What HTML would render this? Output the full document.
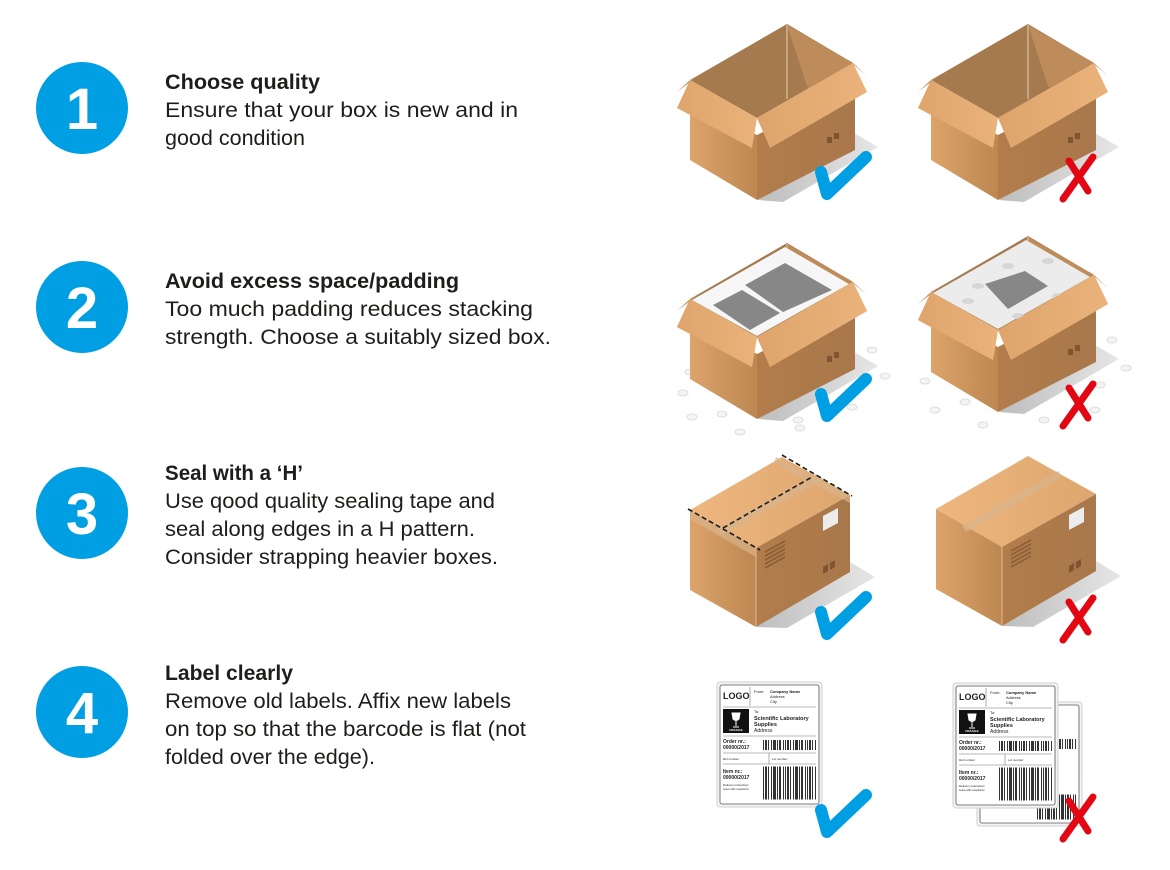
<!DOCTYPE html>
<html><head><meta charset="utf-8"><style>
html,body{margin:0;padding:0;background:#fff;width:1170px;height:870px;overflow:hidden}
svg{display:block}
.t{font-family:"Liberation Sans",sans-serif;font-size:21px;fill:#1d1d1b}
.b{font-weight:bold}
.n{font-family:"Liberation Sans",sans-serif;font-size:58px;fill:#fff;font-weight:bold}
.l{font-family:"Liberation Sans",sans-serif;fill:#222}
</style></head><body>
<svg width="1170" height="870" viewBox="0 0 1170 870" xmlns="http://www.w3.org/2000/svg">
<defs>
<linearGradient id="gl" x1="0" x2="1"><stop offset="0" stop-color="#dca46a"/><stop offset="1" stop-color="#bd8752"/></linearGradient>
<linearGradient id="gr" x1="0" x2="1"><stop offset="0" stop-color="#b27d4b"/><stop offset="1" stop-color="#a8774a"/></linearGradient>
<linearGradient id="gf" x1="0" x2="1"><stop offset="0" stop-color="#dea46b"/><stop offset="1" stop-color="#eab37b"/></linearGradient>
<linearGradient id="gt" x1="0" x2="1"><stop offset="0" stop-color="#efb77f"/><stop offset="1" stop-color="#dda66f"/></linearGradient>
<linearGradient id="gs" x1="0" x2="1"><stop offset="0" stop-color="#bdbdbd"/><stop offset="1" stop-color="#e6e6e6"/></linearGradient>
<g id="open">
 <polygon points="65,108 91,123 -4,178 -29,176" fill="url(#gs)"/>
 <polygon points="-97,56 0,0 66,39 -30,94" fill="#a57a4e"/>
 <polygon points="0,1 66,39 50,90 20,62" fill="#be8c5b"/>
 <line x1="0" y1="1" x2="0" y2="75" stroke="#e8d0b0" stroke-width="1"/>
 <polygon points="-97,76 -30,111 -30,176 -97,136" fill="url(#gl)"/>
 <polygon points="-30,111 68,61 68,126 -30,176" fill="url(#gr)"/>
 <polygon points="-97,56 -110,68 -88,51" fill="#c08b57"/>
 <polygon points="66,39 80,52 60,35" fill="#c08b57"/>
 <polygon points="-97,56 -110,84 -35,124 -30,94" fill="url(#gf)"/>
 <polygon points="-30,94 66,39 80,68 -17,124" fill="url(#gf)"/>
 <rect x="40" y="113" width="5" height="6" fill="#7d5530"/><rect x="47" y="109" width="5" height="6" fill="#7d5530"/>
</g>
<g id="closed">
 <polygon points="68,105 93,120 5,171 -26,170" fill="url(#gs)"/>
 <polygon points="-92,53 0,0 68,38 -26,91" fill="url(#gt)"/>
 <polygon points="-92,53 -26,91 -26,170 -92,133" fill="url(#gl)"/>
 <polygon points="-26,91 68,38 68,115 -26,170" fill="url(#gr)"/>
 <line x1="-26" y1="91" x2="-26" y2="170" stroke="#e7c9a0" stroke-width="0.8"/>
 <polygon points="41,59 56,51 56,66 41,74" fill="#ececec"/>
 <g stroke="#8a5f37" stroke-width="1.6"><line x1="-17" y1="95" x2="3" y2="84"/><line x1="-17" y1="99" x2="3" y2="88"/><line x1="-17" y1="103" x2="3" y2="92"/><line x1="-17" y1="107" x2="3" y2="96"/><line x1="-17" y1="111" x2="3" y2="100"/></g>
 <polygon points="41,110 46,107 46,114 41,117" fill="#7d5530"/>
 <polygon points="48,106 53,103 53,110 48,113" fill="#7d5530"/>
</g>
<g id="chk"><polyline points="6,22 12,44 51,7" fill="none" stroke="#009fe3" stroke-width="12" stroke-linecap="round" stroke-linejoin="round"/></g>
<g id="xx" stroke="#e30613" stroke-width="7" stroke-linecap="round"><line x1="35" y1="4" x2="5" y2="46"/><line x1="11" y1="8" x2="30" y2="38"/></g>
<g id="pn" fill="#f4f4f4" stroke="#d8d8d8" stroke-width="0.8"><ellipse cx="0" cy="0" rx="5" ry="3"/></g>
</defs>

<g fill="#009fe3"><circle cx="82" cy="108" r="46"/><circle cx="82" cy="307" r="46"/><circle cx="82" cy="513" r="46"/><circle cx="82" cy="712" r="46"/></g>
<text class="n" x="82" y="129" text-anchor="middle">1</text>
<text class="n" x="82" y="328" text-anchor="middle">2</text>
<text class="n" x="82" y="534" text-anchor="middle">3</text>
<text class="n" x="82" y="733" text-anchor="middle">4</text>

<text class="t b" x="165" y="89" textLength="155" lengthAdjust="spacingAndGlyphs">Choose quality</text>
<text class="t" x="165" y="117" textLength="353" lengthAdjust="spacingAndGlyphs">Ensure that your box is new and in</text>
<text class="t" x="165" y="145" textLength="140" lengthAdjust="spacingAndGlyphs">good condition</text>
<text class="t b" x="165" y="288" textLength="294" lengthAdjust="spacingAndGlyphs">Avoid excess space/padding</text>
<text class="t" x="165" y="316" textLength="368" lengthAdjust="spacingAndGlyphs">Too much padding reduces stacking</text>
<text class="t" x="165" y="344" textLength="386" lengthAdjust="spacingAndGlyphs">strength. Choose a suitably sized box.</text>
<text class="t b" x="165" y="480" textLength="138" lengthAdjust="spacingAndGlyphs">Seal with a ‘H’</text>
<text class="t" x="165" y="508" textLength="330" lengthAdjust="spacingAndGlyphs">Use qood quality sealing tape and</text>
<text class="t" x="165" y="536" textLength="310" lengthAdjust="spacingAndGlyphs">seal along edges in a H pattern.</text>
<text class="t" x="165" y="564" textLength="333" lengthAdjust="spacingAndGlyphs">Consider strapping heavier boxes.</text>
<text class="t b" x="165" y="680" textLength="128" lengthAdjust="spacingAndGlyphs">Label clearly</text>
<text class="t" x="165" y="708" textLength="346" lengthAdjust="spacingAndGlyphs">Remove old labels. Affix new labels</text>
<text class="t" x="165" y="736" textLength="361" lengthAdjust="spacingAndGlyphs">on top so that the barcode is flat (not</text>
<text class="t" x="165" y="764" textLength="210" lengthAdjust="spacingAndGlyphs">folded over the edge).</text>

<use href="#open" transform="translate(787,24)"/>
<use href="#open" transform="translate(1028,24)"/>
<use href="#chk" transform="translate(815,150)"/>
<use href="#xx" transform="translate(1058,153)"/>

<g>
<use href="#pn" x="683" y="393"/><use href="#pn" x="692" y="417"/><use href="#pn" x="722" y="414"/><use href="#pn" x="740" y="432"/><use href="#pn" x="690" y="372"/><use href="#pn" x="872" y="350"/><use href="#pn" x="885" y="376"/><use href="#pn" x="800" y="428"/><use href="#pn" x="798" y="420"/>
<use href="#pn" x="925" y="381"/><use href="#pn" x="935" y="410"/><use href="#pn" x="965" y="402"/><use href="#pn" x="983" y="425"/><use href="#pn" x="1112" y="340"/><use href="#pn" x="1126" y="368"/><use href="#pn" x="1044" y="420"/><use href="#pn" x="1100" y="385"/>
</g>
<use href="#open" transform="translate(787,243)"/>
<g transform="translate(787,243)">
 <polygon points="-95,57 -2,4 62,41 -30,93" fill="#f6f6f6"/>
 <polygon points="-2,20 45,47 -4,69 -42,42" fill="#878787"/>
 <polygon points="-45,47 -7,70 -37,87 -74,62" fill="#878787"/>
 <polygon points="-30,94 66,39 80,68 -17,124" fill="url(#gf)"/>
 <polygon points="-97,56 -110,84 -35,124 -30,94" fill="url(#gf)"/>
</g>
<use href="#open" transform="translate(1028,236)"/>
<g transform="translate(1028,236)">
 <polygon points="-95,57 -2,4 62,41 -30,93" fill="#ececec"/>
 <g fill="#d6d6d6"><ellipse cx="-50" cy="50" rx="6" ry="3"/><ellipse cx="-20" cy="30" rx="6" ry="3"/><ellipse cx="20" cy="25" rx="6" ry="3"/><ellipse cx="-60" cy="65" rx="6" ry="3"/><ellipse cx="30" cy="60" rx="6" ry="3"/><ellipse cx="-10" cy="80" rx="6" ry="3"/></g>
 <polygon points="-43,48 -3,35 20,50 -20,73" fill="#878787"/>
 <polygon points="-30,94 66,39 80,68 -17,124" fill="url(#gf)"/>
 <polygon points="-97,56 -110,84 -35,124 -30,94" fill="url(#gf)"/>
</g>
<use href="#pn" x="852" y="407"/><use href="#pn" x="1095" y="410"/>
<use href="#chk" transform="translate(815,372)"/>
<use href="#xx" transform="translate(1058,380)"/>

<use href="#closed" transform="translate(782,457)"/>
<g transform="translate(782,457)">
 <polygon points="-67,73 33,17 41,22 -59,78" fill="#d9b48a" opacity="0.8"/>
 <polygon points="-92,53 -26,91 -26,100 -92,62" fill="#d9b48a" opacity="0.7"/>
 <polygon points="-6,0 68,38 68,46 -8,6" fill="#d9b48a" opacity="0.7"/>
 <g stroke="#1d1d1b" stroke-width="1.6" stroke-dasharray="5,3" fill="none">
  <line x1="-94" y1="52" x2="-22" y2="93"/>
  <line x1="0" y1="-2" x2="70" y2="39"/>
  <line x1="-59" y1="71" x2="30" y2="20"/>
 </g>
</g>
<use href="#closed" transform="translate(1028,456)"/>
<polygon points="962,526 1058,471 1062,477 966,532" fill="#d9b48a" opacity="0.8"/>
<use href="#chk" transform="translate(815,590)"/>
<use href="#xx" transform="translate(1058,594)"/>

<g transform="translate(717,682)">
 <rect x="2" y="118" width="101" height="6" fill="#ddd" rx="3"/>
 <rect x="0" y="0" width="105" height="125" rx="3" fill="#f4f4f4" stroke="#d0d0d0"/>
 <rect x="3" y="3" width="99" height="119" rx="2" fill="#fff" stroke="#555" stroke-width="0.8"/>
 <text class="l" x="6" y="17" font-size="9" font-weight="bold">LOGO</text>
 <line x1="33" y1="5" x2="33" y2="24" stroke="#777" stroke-width="0.6"/>
 <text class="l" x="37" y="11" font-size="4">From:</text>
 <text class="l" x="53" y="11" font-size="4" font-weight="bold">Company Name</text>
 <text class="l" x="53" y="16" font-size="4" fill="#666">Address</text>
 <text class="l" x="53" y="21" font-size="4" fill="#666">City</text>
 <line x1="6" y1="25" x2="99" y2="25" stroke="#777" stroke-width="0.6"/>
 <rect x="6" y="27" width="26" height="24" fill="#111"/>
 <text x="19" y="49" font-size="3" fill="#fff" text-anchor="middle" font-family="Liberation Sans" font-weight="bold">FRAGILE</text>
 <path d="M15,31 h8 l-1,6 q-3,3 -6,0 z M19,39 v5 M16,45 h6" stroke="#fff" fill="#fff" stroke-width="1"/>
 <text class="l" x="37" y="31" font-size="4">To:</text>
 <text class="l" x="37" y="38" font-size="5.5" font-weight="bold">Scientific Laboratory</text>
 <text class="l" x="37" y="44" font-size="5.5" font-weight="bold">Supplies</text>
 <text class="l" x="37" y="50" font-size="5" fill="#777">Address</text>
 <line x1="6" y1="54" x2="99" y2="54" stroke="#777" stroke-width="0.6"/>
 <text class="l" x="6" y="61" font-size="5" font-weight="bold">Order nr.:</text>
 <text class="l" x="6" y="67" font-size="5" font-weight="bold">00000/2017</text>
 <line x1="46" y1="63" x2="99" y2="63" stroke="#333" stroke-width="10" stroke-dasharray="1 1 2 1 1 2 1 1 3 1 1 1 2 2 1 1"/>
 <line x1="6" y1="71" x2="99" y2="71" stroke="#777" stroke-width="0.6"/>
 <text class="l" x="6" y="78" font-size="3">Ref number:</text>
 <line x1="52" y1="71" x2="52" y2="82" stroke="#777" stroke-width="0.6"/>
 <text class="l" x="55" y="78" font-size="3">Lot number:</text>
 <line x1="6" y1="82" x2="99" y2="82" stroke="#777" stroke-width="0.6"/>
 <text class="l" x="6" y="91" font-size="5" font-weight="bold">Item nr.:</text>
 <text class="l" x="6" y="97" font-size="5" font-weight="bold">00000/2017</text>
 <text class="l" x="6" y="104" font-size="3">Delivery instruction:</text>
 <text class="l" x="6" y="108" font-size="2.5" fill="#888">Leave with receptionist</text>
 <line x1="46" y1="101" x2="99" y2="101" stroke="#333" stroke-width="33" stroke-dasharray="1 1 2 1 1 2 1 1 3 1 1 1 2 2 1 1"/>
</g>

<g transform="translate(977,702)">
 <rect x="0" y="0" width="105" height="124" rx="3" fill="#f4f4f4" stroke="#d0d0d0"/>
 <rect x="3" y="3" width="99" height="118" rx="2" fill="#fff" stroke="#555" stroke-width="0.8"/>
 <line x1="60" y1="42" x2="99" y2="42" stroke="#333" stroke-width="10" stroke-dasharray="1 1 2 1 1 2 1 1"/>
 <line x1="60" y1="105" x2="99" y2="105" stroke="#333" stroke-width="25" stroke-dasharray="1 1 2 1 1 2 1 1 3 1"/>
</g>
<g transform="translate(953,683)">
 <rect x="0" y="0" width="105" height="125" rx="3" fill="#f4f4f4" stroke="#d0d0d0"/>
 <rect x="3" y="3" width="99" height="119" rx="2" fill="#fff" stroke="#555" stroke-width="0.8"/>
 <text class="l" x="6" y="17" font-size="9" font-weight="bold">LOGO</text>
 <line x1="33" y1="5" x2="33" y2="24" stroke="#777" stroke-width="0.6"/>
 <text class="l" x="37" y="11" font-size="4">From:</text>
 <text class="l" x="53" y="11" font-size="4" font-weight="bold">Company Name</text>
 <text class="l" x="53" y="16" font-size="4" fill="#666">Address</text>
 <text class="l" x="53" y="21" font-size="4" fill="#666">City</text>
 <line x1="6" y1="25" x2="99" y2="25" stroke="#777" stroke-width="0.6"/>
 <rect x="6" y="27" width="26" height="24" fill="#111"/>
 <text x="19" y="49" font-size="3" fill="#fff" text-anchor="middle" font-family="Liberation Sans" font-weight="bold">FRAGILE</text>
 <path d="M15,31 h8 l-1,6 q-3,3 -6,0 z M19,39 v5 M16,45 h6" stroke="#fff" fill="#fff" stroke-width="1"/>
 <text class="l" x="37" y="31" font-size="4">To:</text>
 <text class="l" x="37" y="38" font-size="5.5" font-weight="bold">Scientific Laboratory</text>
 <text class="l" x="37" y="44" font-size="5.5" font-weight="bold">Supplies</text>
 <text class="l" x="37" y="50" font-size="5" fill="#777">Address</text>
 <line x1="6" y1="54" x2="99" y2="54" stroke="#777" stroke-width="0.6"/>
 <text class="l" x="6" y="61" font-size="5" font-weight="bold">Order nr.:</text>
 <text class="l" x="6" y="67" font-size="5" font-weight="bold">00000/2017</text>
 <line x1="46" y1="63" x2="99" y2="63" stroke="#333" stroke-width="10" stroke-dasharray="1 1 2 1 1 2 1 1 3 1 1 1 2 2 1 1"/>
 <line x1="6" y1="71" x2="99" y2="71" stroke="#777" stroke-width="0.6"/>
 <text class="l" x="6" y="78" font-size="3">Ref number:</text>
 <line x1="52" y1="71" x2="52" y2="82" stroke="#777" stroke-width="0.6"/>
 <text class="l" x="55" y="78" font-size="3">Lot number:</text>
 <line x1="6" y1="82" x2="99" y2="82" stroke="#777" stroke-width="0.6"/>
 <text class="l" x="6" y="91" font-size="5" font-weight="bold">Item nr.:</text>
 <text class="l" x="6" y="97" font-size="5" font-weight="bold">00000/2017</text>
 <text class="l" x="6" y="104" font-size="3">Delivery instruction:</text>
 <text class="l" x="6" y="108" font-size="2.5" fill="#888">Leave with receptionist</text>
 <line x1="46" y1="101" x2="99" y2="101" stroke="#333" stroke-width="33" stroke-dasharray="1 1 2 1 1 2 1 1 3 1 1 1 2 2 1 1"/>
</g>
<use href="#chk" transform="translate(815,788)"/>
<use href="#xx" transform="translate(1058,793)"/>
</svg>
</body></html>
